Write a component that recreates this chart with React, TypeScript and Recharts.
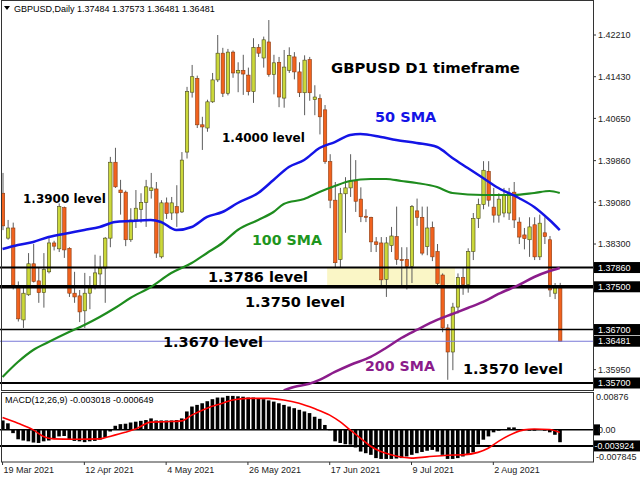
import { ComposedChart, Bar, Line, XAxis, YAxis, ReferenceLine, ReferenceArea } from 'recharts'

// GBPUSD daily candles from 19 Mar 2021 to 19 Aug 2021: [open, high, low, close]
const candles: [number, number, number, number][] = [
  [1.3925, 1.3963, 1.3856, 1.3864], [1.3841, 1.3875, 1.3838, 1.386], [1.386, 1.387, 1.3745, 1.3753], [1.3752, 1.376, 1.3685, 1.369],
  [1.3688, 1.375, 1.3673, 1.3738], [1.3735, 1.3813, 1.3733, 1.3793], [1.3793, 1.383, 1.3758, 1.376], [1.3761, 1.3787, 1.372, 1.3739],
  [1.3739, 1.3813, 1.3711, 1.3782], [1.3778, 1.3843, 1.3775, 1.3832], [1.3832, 1.3836, 1.3818, 1.3826], [1.3821, 1.3906, 1.3815, 1.39],
  [1.3898, 1.39, 1.3804, 1.3819], [1.3822, 1.3824, 1.3731, 1.3738], [1.3738, 1.3778, 1.372, 1.3731], [1.3733, 1.3744, 1.3684, 1.3703],
  [1.3705, 1.3776, 1.3673, 1.3738], [1.3738, 1.377, 1.3708, 1.3751], [1.3753, 1.381, 1.3745, 1.3776], [1.3774, 1.3808, 1.375, 1.3785],
  [1.3785, 1.3843, 1.372, 1.3841], [1.3841, 1.3993, 1.3824, 1.3983], [1.3983, 1.401, 1.3935, 1.3937], [1.3931, 1.395, 1.3885, 1.3926],
  [1.3927, 1.393, 1.3826, 1.3838], [1.3838, 1.3897, 1.3834, 1.3875], [1.3875, 1.3931, 1.386, 1.3897], [1.3895, 1.3925, 1.387, 1.3908],
  [1.3908, 1.395, 1.3862, 1.3937], [1.393, 1.3963, 1.3915, 1.3935], [1.3933, 1.3946, 1.3804, 1.3813], [1.3806, 1.3912, 1.3803, 1.3907],
  [1.3907, 1.3917, 1.3877, 1.3887], [1.3888, 1.3918, 1.3875, 1.3907], [1.39, 1.394, 1.3862, 1.3888], [1.389, 1.4002, 1.3888, 1.3987],
  [1.4002, 1.4124, 1.399, 1.4115], [1.4114, 1.4165, 1.4104, 1.4143], [1.414, 1.4145, 1.4047, 1.4053], [1.4053, 1.4068, 1.4006, 1.4049],
  [1.4047, 1.41, 1.404, 1.4096], [1.4096, 1.415, 1.4094, 1.4137], [1.4137, 1.4221, 1.4133, 1.4187], [1.4187, 1.4197, 1.4105, 1.4112],
  [1.4112, 1.4195, 1.4108, 1.4189], [1.4189, 1.4192, 1.4141, 1.415], [1.415, 1.417, 1.4114, 1.4155], [1.4155, 1.4184, 1.4109, 1.4148],
  [1.4146, 1.416, 1.4108, 1.4115], [1.4115, 1.4215, 1.4094, 1.4198], [1.4198, 1.4204, 1.418, 1.4187], [1.4178, 1.4218, 1.416, 1.4212],
  [1.4208, 1.4249, 1.4143, 1.4147], [1.4147, 1.4184, 1.411, 1.4169], [1.417, 1.418, 1.4086, 1.4105], [1.4103, 1.4193, 1.4085, 1.4161],
  [1.4155, 1.4198, 1.415, 1.4183], [1.418, 1.4189, 1.4138, 1.4152], [1.4152, 1.417, 1.4105, 1.4113], [1.4113, 1.4183, 1.4071, 1.4174],
  [1.4175, 1.418, 1.4098, 1.4113], [1.41, 1.4127, 1.4071, 1.4105], [1.4102, 1.411, 1.4035, 1.4068], [1.4081, 1.409, 1.398, 1.3984],
  [1.3984, 1.3998, 1.3897, 1.3912], [1.3912, 1.3946, 1.3787, 1.3795], [1.3801, 1.3935, 1.3787, 1.3924], [1.3924, 1.3955, 1.3851, 1.3935],
  [1.3935, 1.3998, 1.3918, 1.3948], [1.3948, 1.3987, 1.389, 1.391], [1.3914, 1.3936, 1.3871, 1.3881], [1.3882, 1.3895, 1.3871, 1.388],
  [1.388, 1.3881, 1.3815, 1.3834], [1.3834, 1.3843, 1.3815, 1.3829], [1.3832, 1.3843, 1.3753, 1.3763], [1.3764, 1.3843, 1.3731, 1.3832],
  [1.3827, 1.3862, 1.3815, 1.3845], [1.3844, 1.39, 1.3791, 1.3801], [1.3801, 1.3824, 1.3753, 1.3799], [1.3801, 1.3824, 1.3745, 1.3788],
  [1.3788, 1.3903, 1.3757, 1.39], [1.3892, 1.3915, 1.3864, 1.388], [1.388, 1.39, 1.3809, 1.3813], [1.3825, 1.39, 1.3809, 1.386],
  [1.3861, 1.3872, 1.3798, 1.3806], [1.3816, 1.383, 1.375, 1.3756], [1.3772, 1.3775, 1.3665, 1.3673], [1.3673, 1.368, 1.3576, 1.3628],
  [1.3628, 1.372, 1.3594, 1.3712], [1.3712, 1.3775, 1.37, 1.3767], [1.3767, 1.3785, 1.3735, 1.3754], [1.3754, 1.3822, 1.3739, 1.3816],
  [1.3816, 1.3888, 1.38, 1.3878], [1.3878, 1.3915, 1.386, 1.3904], [1.3904, 1.3985, 1.3895, 1.3968], [1.3966, 1.3985, 1.39, 1.3912],
  [1.3899, 1.3935, 1.387, 1.3884], [1.3884, 1.3925, 1.387, 1.3914], [1.3888, 1.3935, 1.388, 1.3922], [1.3888, 1.3935, 1.3875, 1.3925],
  [1.3927, 1.3946, 1.386, 1.3875], [1.3871, 1.388, 1.383, 1.3843], [1.3847, 1.386, 1.382, 1.384], [1.3838, 1.388, 1.3806, 1.3862],
  [1.3866, 1.388, 1.38, 1.3806], [1.3806, 1.3885, 1.38, 1.3869], [1.3851, 1.388, 1.383, 1.3844], [1.3838, 1.3845, 1.3731, 1.3744],
  [1.3738, 1.3757, 1.3727, 1.3748], [1.37484, 1.37573, 1.36481, 1.36481],
]

// moving averages read at a few bars: [bar index, value]
const sma50Pts: [number, number][] = [
  [0, 1.38207], [3, 1.38282], [6, 1.38338], [9, 1.38431], [13, 1.38506], [16, 1.38562], [19, 1.38619], [22, 1.38712],
  [25, 1.38731], [29, 1.38749], [31, 1.38712], [34, 1.38562], [37, 1.38619], [40, 1.38806], [43, 1.38899], [46, 1.39067],
  [50, 1.39255], [53, 1.39498], [56, 1.39741], [59, 1.39872], [62, 1.40096], [65, 1.40208], [68, 1.40339], [70, 1.40358],
  [74, 1.40302], [77, 1.40246], [81, 1.4019], [85, 1.40115], [88, 1.39909], [91, 1.39722], [94, 1.39535], [97, 1.39348],
  [101, 1.39161], [104, 1.38993], [107, 1.38749], [109, 1.38562],
]
const sma100Pts: [number, number][] = [
  [0, 1.35813], [3, 1.36093], [6, 1.36318], [9, 1.36467], [13, 1.36654], [16, 1.36785], [19, 1.36935], [22, 1.37103],
  [25, 1.3729], [29, 1.37496], [33, 1.37758], [37, 1.37945], [40, 1.38132], [43, 1.38319], [46, 1.38562], [50, 1.38749],
  [53, 1.38899], [55, 1.39049], [59, 1.39142], [62, 1.39273], [65, 1.39385], [68, 1.39479], [72, 1.39516], [75, 1.39516],
  [78, 1.39479], [81, 1.39442], [85, 1.39367], [88, 1.39255], [94, 1.39217], [100, 1.39217], [104, 1.39255], [107, 1.39292],
  [109, 1.39255],
]
const sma200Pts: [number, number][] = [
  [55, 1.3556], [57, 1.35625], [60, 1.35685], [62, 1.35757], [65, 1.35906], [68, 1.36037], [72, 1.36187], [75, 1.36355],
  [78, 1.36542], [81, 1.36692], [85, 1.36879], [88, 1.36991], [91, 1.37103], [94, 1.37216], [97, 1.37365], [101, 1.37534],
  [104, 1.37683], [107, 1.37795], [109, 1.37852],
]

// MACD(12,26,9) histogram per bar and signal line at a few bars
const macdHist = [
  0.0023, 0.0016, -0.0008, -0.0023, -0.0026, -0.0028, -0.0031, -0.0032, -0.0028, -0.0026,
  -0.002, -0.0016, -0.0015, -0.0023, -0.0027, -0.0028, -0.003, -0.0028, -0.0027, -0.0024,
  -0.0019, -0.0004, 0.001, 0.0014, 0.0015, 0.0018, 0.002, 0.0022, 0.0024, 0.0028,
  0.0023, 0.0023, 0.0023, 0.0023, 0.0024, 0.0028, 0.0045, 0.0057, 0.0061, 0.0065,
  0.007, 0.0075, 0.0079, 0.0079, 0.0083, 0.0083, 0.0082, 0.0081, 0.0079, 0.0079,
  0.0077, 0.0075, 0.0072, 0.0069, 0.0065, 0.0061, 0.0057, 0.0053, 0.0049, 0.0045,
  0.0041, 0.0032, 0.0027, 0.0012, -0.0001, -0.0028, -0.0032, -0.0035, -0.0036, -0.0043,
  -0.0053, -0.0057, -0.0061, -0.0069, -0.0071, -0.0071, -0.0071, -0.007, -0.0069, -0.0065,
  -0.0061, -0.0057, -0.0054, -0.0051, -0.0049, -0.0053, -0.0061, -0.0071, -0.0071, -0.0069,
  -0.0065, -0.0061, -0.0055, -0.0036, -0.0024, -0.0016, -0.0006, -0.0002, 0.0002, 0.0006,
  0.0006, 0.0002, 0, -0.0002, -0.0002, 0, -0.0002, -0.0006, -0.0012, -0.003018,
]
const signalPts: [number, number][] = [
  [0, 0.003], [3, 0.0016], [6, 0], [8, -0.0016], [10, -0.0022], [14, -0.0023], [19, -0.0022], [21, -0.0016],
  [24, -0.0006], [26, 0.0002], [29, 0.0019], [32, 0.002], [35, 0.0022], [37, 0.0036], [40, 0.0053], [43, 0.0065],
  [45, 0.0073], [48, 0.0077], [52, 0.0077], [55, 0.0073], [58, 0.0065], [61, 0.0052], [64, 0.0036], [66, 0.002],
  [68, 0], [70, -0.002], [72, -0.004], [74, -0.0053], [76, -0.0061], [80, -0.0069], [83, -0.0066], [87, -0.0062],
  [90, -0.0061], [93, -0.0055], [95, -0.0045], [97, -0.0028], [100, -0.0008], [102, 0], [104, 0.0002], [107, 0.0001],
  [109, -0.000649],
]

const dateTicks = [0, 16, 32, 48, 64, 80, 96]
const dateLabels = ['19 Mar 2021', '12 Apr 2021', '4 May 2021', '26 May 2021', '17 Jun 2021', '9 Jul 2021', '2 Aug 2021']

const priceTicks = [1.4221, 1.4143, 1.4065, 1.3986, 1.3908, 1.383, 1.3595]
const levelTicks = [1.3786, 1.375, 1.367, 1.36481, 1.357]
const macdTicks = [0.00876, 0, -0.003924, -0.007845]
const macdTickLabels = ['0.00876', '0.00', '-0.003924', '-0.007845']

const SLOTS = 116
const BULL = '#cbd83a'
const BEAR = '#f1621e'
const AXIS_FONT = '"Liberation Sans", Arial, sans-serif'
const NOTE_FONT = '"DejaVu Sans", Verdana, sans-serif'

const m50 = new Map(sma50Pts)
const m100 = new Map(sma100Pts)
const m200 = new Map(sma200Pts)
const sig = new Map(signalPts)

const data = Array.from({ length: SLOTS }, (_, i) => {
  const c = candles[i]
  return {
    i,
    open: c ? c[0] : null,
    high: c ? c[1] : null,
    low: c ? c[2] : null,
    close: c ? c[3] : null,
    macd: i < macdHist.length ? macdHist[i] : null,
    signal: sig.get(i) ?? null,
    sma50: m50.get(i) ?? null,
    sma100: m100.get(i) ?? null,
    sma200: m200.get(i) ?? null,
  }
})

function Candle(props: any) {
  const { x, y, width, height, payload } = props
  if (payload == null || payload.high == null) return null
  const { open, high, low, close } = payload
  const k = height / (high - low || 1)
  const cx = x + width / 2
  const yO = y + (high - open) * k
  const yC = y + (high - close) * k
  const top = Math.min(yO, yC)
  const h = Math.max(Math.abs(yO - yC), 1)
  const up = close >= open
  return (
    <g>
      <line x1={cx} x2={cx} y1={y} y2={y + height} stroke="#5c5c5c" strokeWidth={1} />
      <rect x={cx - 1.7} y={top} width={3.4} height={h} fill={up ? BULL : BEAR} stroke={up ? '#4a4a1a' : '#8a3a10'} strokeWidth={0.6} />
    </g>
  )
}

function PriceTick(props: any) {
  const { x, y, payload } = props
  const v = payload.value
  const label = v.toFixed(5)
  if (levelTicks.includes(v)) {
    return (
      <g>
        <rect x={x + 1} y={y - 5.5} width={47} height={11} fill="#000" />
        <text x={x + 5} y={y + 3.2} fontSize={9} fontFamily={AXIS_FONT} fill="#fff">{label}</text>
      </g>
    )
  }
  return (
    <g>
      <line x1={x} x2={x + 3} y1={y} y2={y} stroke="#333" />
      <text x={x + 5} y={y + 3.2} fontSize={9} fontFamily={AXIS_FONT} fill="#222">{label}</text>
    </g>
  )
}

function MacdTick(props: any) {
  const { x, y, payload } = props
  const idx = macdTicks.indexOf(payload.value)
  const label = macdTickLabels[idx]
  if (idx === 2) {
    return (
      <g>
        <rect x={x + 1} y={y - 5.5} width={47} height={11} fill="#000" />
        <text x={x + 1.5} y={y + 3.2} fontSize={8.8} fontFamily={AXIS_FONT} fill="#fff">{label}</text>
      </g>
    )
  }
  if (idx === 1) {
    return (
      <g>
        <rect x={x + 1} y={y - 5.5} width={6} height={11} fill="#000" />
        <text x={x + 5} y={y + 3.2} fontSize={9} fontFamily={AXIS_FONT} fill="#222">{label}</text>
      </g>
    )
  }
  const dy = idx === 0 ? 3 : -5
  return (
    <text x={x + 3} y={y + dy + 3.2} fontSize={9} fontFamily={AXIS_FONT} fill="#222">{label}</text>
  )
}

function DateTick(props: any) {
  const { x, y, payload } = props
  const label = dateLabels[dateTicks.indexOf(payload.value)]
  return (
    <g>
      <line x1={x} x2={x} y1={y} y2={y + 3} stroke="#333" />
      <text x={x + 1} y={y + 11} fontSize={9} fontFamily={AXIS_FONT} fill="#222">{label}</text>
    </g>
  )
}

function Note({ x, y, size, color = '#000', children }: any) {
  return (
    <text x={x} y={y} fontSize={size} fontWeight="bold" fontFamily={NOTE_FONT} fill={color}>{children}</text>
  )
}

export default function App() {
  return (
    <div style={{ position: 'absolute', left: 0, top: 0, width: 640, height: 480, background: '#fff', overflow: 'hidden' }}>
      <div style={{ position: 'absolute', left: 0, top: 0 }}>
        <ComposedChart width={640} height={390} data={data} margin={{ top: 0, right: 0, bottom: 0, left: 0 }}>
          <XAxis dataKey="i" type="category" hide />
          <YAxis
            orientation="right"
            width={47}
            domain={[1.35569, 1.42865]}
            allowDataOverflow
            ticks={[...priceTicks, ...levelTicks]}
            interval={0}
            tick={<PriceTick />}
            tickLine={false}
            axisLine={false}
            tickSize={0}
            tickMargin={0}
          />
          <ReferenceArea x1={64} x2={88} y1={1.375} y2={1.3786} fill="#faf6c6" fillOpacity={1} stroke="none" />
          <Bar
            dataKey={(d: any) => (d.high == null ? null : [d.low, d.high])}
            barSize={4}
            shape={(p: any) => <Candle {...p} />}
            isAnimationActive={false}
          />
          <ReferenceLine y={1.3786} stroke="#000" strokeWidth={2} />
          <ReferenceLine y={1.375} stroke="#000" strokeWidth={3.5} />
          <ReferenceLine y={1.367} stroke="#000" strokeWidth={1.5} />
          <ReferenceLine y={1.36481} stroke="#7a7ad8" strokeWidth={1} />
          <ReferenceLine y={1.357} stroke="#000" strokeWidth={2} />
          <Line dataKey="sma100" type="monotone" stroke="#1e8c1e" strokeWidth={2.2} dot={false} activeDot={false} connectNulls isAnimationActive={false} />
          <Line dataKey="sma50" type="monotone" stroke="#1414e6" strokeWidth={2.5} dot={false} activeDot={false} connectNulls isAnimationActive={false} />
          <Line dataKey="sma200" type="monotone" stroke="#8b1c8b" strokeWidth={2.5} dot={false} activeDot={false} connectNulls isAnimationActive={false} />
        </ComposedChart>
      </div>
      <div style={{ position: 'absolute', left: 0, top: 390 }}>
        <ComposedChart width={640} height={90} data={data} margin={{ top: 2, right: 0, bottom: 0, left: 0 }}>
          <XAxis
            dataKey="i"
            type="category"
            ticks={dateTicks}
            interval={0}
            tick={<DateTick />}
            tickLine={false}
            axisLine={false}
            tickSize={0}
            tickMargin={0}
            height={18}
          />
          <YAxis
            orientation="right"
            width={47}
            domain={[-0.00785, 0.00925]}
            allowDataOverflow
            ticks={macdTicks}
            interval={0}
            tick={<MacdTick />}
            tickLine={false}
            axisLine={false}
            tickSize={0}
            tickMargin={0}
          />
          <Bar dataKey="macd" fill="#000" barSize={3.6} isAnimationActive={false} />
          <ReferenceLine y={0} stroke="#000" strokeWidth={1.5} />
          <ReferenceLine y={-0.003924} stroke="#000" strokeWidth={2} />
          <Line dataKey="signal" type="monotone" stroke="#ff0000" strokeWidth={1.6} dot={false} activeDot={false} connectNulls isAnimationActive={false} />
        </ComposedChart>
      </div>
      <svg width={640} height={480} style={{ position: 'absolute', left: 0, top: 0, pointerEvents: 'none' }}>
        <rect x={1.5} y={0.5} width={592} height={390} fill="none" stroke="#333" strokeWidth={1} />
        <rect x={1.5} y={392.5} width={592} height={69.5} fill="none" stroke="#333" strokeWidth={1} />
        <polygon points="4,6 10,6 7,10" fill="#000" />
        <text x={14} y={12} fontSize={9} fontFamily={AXIS_FONT} fill="#000">GBPUSD,Daily  1.37484 1.37573 1.36481 1.36481</text>
        <text x={5} y={403} fontSize={9} fontFamily={AXIS_FONT} fill="#000">MACD(12,26,9) -0.003018 -0.000649</text>
        <Note x={331} y={72.5} size={14.8}>GBPUSD D1 timeframe</Note>
        <Note x={375} y={122} size={14.5} color="#1414e6">50 SMA</Note>
        <Note x={222} y={142} size={12}>1.4000 level</Note>
        <Note x={23} y={202.5} size={12}>1.3900 level</Note>
        <Note x={252} y={245} size={14.2} color="#1e961e">100 SMA</Note>
        <Note x={208} y={282} size={14.5}>1.3786 level</Note>
        <Note x={245} y={307} size={14.5}>1.3750 level</Note>
        <Note x={163} y={347} size={14.5}>1.3670 level</Note>
        <Note x={365} y={371} size={14.2} color="#8b1c8b">200 SMA</Note>
        <Note x={463} y={374} size={14.5}>1.3570 level</Note>
      </svg>
    </div>
  )
}
